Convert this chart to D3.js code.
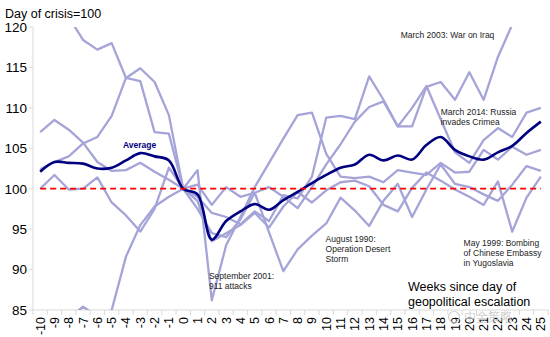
<!DOCTYPE html>
<html>
<head>
<meta charset="utf-8">
<style>
  html, body { margin: 0; padding: 0; background: #fff; }
  svg { display: block; font-family: 'Liberation Sans', Arial, sans-serif; }
</style>
<script src="https://cdn.jsdelivr.net/npm/d3@7/dist/d3.min.js"></script>
</head>
<body>
<div id="chart"></div>
<script>
(function () {
  'use strict';

  // Weeks relative to the day of the event (day of crisis = 100)
  const WEEKS = d3.range(-10, 26);
  const Y_TICKS = [85, 90, 95, 100, 105, 110, 115, 120];

  const IRAQ_2003 = [124.0, 123.0, 121.2, 118.4, 117.2, 118.0, 113.7, 113.3, 107.0, 106.8,
    100.0, 99.0, 97.0, 96.5, 95.6, 97.2, 96.0, 99.2, 98.8, 101.5,
    108.8, 109.0, 108.6, 113.9, 111.0, 107.7, 107.7, 112.6, 113.2, 111.0,
    114.4, 111.0, 116.3, 120.3, 122.0, 123.5];
  const SEPT_2001 = [107.0, 108.5, 107.3, 105.7, 103.3, 102.2, 102.3, 103.2, 102.1, 101.1,
    100.0, 102.3, 86.2, 93.0, 96.5, 100.2, 103.2, 106.2, 109.1, 109.4,
    104.3, 101.5, 101.3, 101.5, 100.8, 102.3, 102.0, 101.7, 103.2, 102.0,
    102.1, 104.8, 103.6, 105.2, 104.2, 104.8];
  const CRIMEA_2014 = [102.4, 103.3, 104.0, 105.6, 106.4, 109.0, 113.7, 114.9, 113.2, 109.1,
    100.0, 100.5, 98.0, 100.2, 99.0, 99.5, 100.2, 99.0, 97.6, 100.2,
    103.0, 105.5, 108.3, 110.1, 110.8, 107.7, 110.0, 112.7, 108.6, 104.5,
    103.2, 106.0, 107.5, 106.4, 109.4, 110.0];
  const MAY_1999 = [100.0, 101.7, 99.9, 100.0, 101.4, 98.3, 96.7, 94.7, 97.5, 102.6,
    100.0, 98.5, 93.5, 94.5, 95.5, 97.0, 95.2, 97.8, 99.6, 98.3,
    99.8, 100.8, 101.0, 100.3, 98.0, 97.2, 100.1, 102.0, 101.0, 99.9,
    99.0, 98.0, 100.9, 94.7, 98.9, 101.5];
  const AUG_1990 = [80.5, 82.5, 84.0, 85.4, 84.2, 85.0, 91.6, 95.5, 97.8, 99.0,
    100.0, 97.5, 94.5, 94.0, 96.2, 99.5, 94.6, 89.8, 92.5, 94.2,
    95.7, 98.9, 97.3, 95.4, 98.5, 100.6, 96.5, 99.9, 103.0, 100.6,
    100.2, 99.3, 98.5, 100.5, 102.8, 102.2];
  const AVERAGE = [102.1, 103.3, 103.2, 103.1, 102.5, 102.6, 103.5, 104.4, 104.0, 103.5,
    100.0, 99.3, 93.7, 96.0, 97.2, 98.1, 97.4, 98.6, 99.6, 100.7,
    101.7, 102.6, 103.0, 104.2, 103.5, 104.1, 103.6, 105.4, 106.4, 104.8,
    104.0, 103.6, 104.5, 105.3, 106.9, 108.3];

  const EVENTS = [IRAQ_2003, SEPT_2001, CRIMEA_2014, MAY_1999, AUG_1990];

  // Annotations: [week, value, lines]  (anchored at first baseline)
  const NOTES = [
    [15.2, 118.6, ['March 2003: War on Iraq']],
    [18.0, 109.1, ['March 2014: Russia', 'invades Crimea']],
    [1.8, 88.8, ['September 2001:', '911 attacks']],
    [9.95, 93.4, ['August 1990:', 'Operation Desert', 'Storm']],
    [19.6, 92.9, ['May 1999: Bombing', 'of Chinese Embassy', 'in Yugoslavia']]
  ];

  const W = 550, H = 337;
  const left = 33, right = 548, top = 27, bottom = 310;

  const svg = d3.select('#chart').append('svg')
    .attr('width', W).attr('height', H);

  const x = d3.scalePoint().domain(WEEKS).range([left, right]).padding(0.5);
  const y = d3.scaleLinear().domain([85, 120]).range([bottom, top]);
  const step = x.step();

  svg.append('defs').append('clipPath').attr('id', 'plot-clip')
    .append('rect')
    .attr('x', left).attr('y', top)
    .attr('width', right - left).attr('height', bottom - top);

  // --- Axes ---
  svg.append('line')
    .attr('x1', left).attr('x2', left).attr('y1', top).attr('y2', bottom)
    .attr('stroke', '#d9d9d9').attr('stroke-width', 1);
  svg.append('line')
    .attr('x1', left).attr('x2', right).attr('y1', bottom).attr('y2', bottom)
    .attr('stroke', '#d9d9d9').attr('stroke-width', 1);

  Y_TICKS.forEach(v => {
    svg.append('line')
      .attr('x1', left - 4).attr('x2', left).attr('y1', y(v)).attr('y2', y(v))
      .attr('stroke', '#d9d9d9');
    svg.append('text')
      .attr('x', 27).attr('y', y(v)).attr('dy', '0.36em')
      .attr('text-anchor', 'end').attr('font-size', 13.5).attr('fill', '#000')
      .text(v);
  });

  WEEKS.forEach((w, i) => {
    const bx = left + i * step;
    svg.append('line')
      .attr('x1', bx).attr('x2', bx).attr('y1', bottom).attr('y2', bottom + 5)
      .attr('stroke', '#d9d9d9');
    svg.append('text')
      .attr('transform', `translate(${x(w) + 4.5},${bottom + 7}) rotate(-90)`)
      .attr('text-anchor', 'end').attr('font-size', 12.5).attr('fill', '#000')
      .text(w);
  });
  svg.append('line')
    .attr('x1', right).attr('x2', right).attr('y1', bottom).attr('y2', bottom + 5)
    .attr('stroke', '#d9d9d9');

  svg.append('text')
    .attr('x', 5).attr('y', 18)
    .attr('font-size', 12.5).attr('fill', '#000')
    .text('Day of crisis=100');

  // --- Lines ---
  const plot = svg.append('g').attr('clip-path', 'url(#plot-clip)');
  const line = d3.line().x((d, i) => x(WEEKS[i])).y(d => y(d));

  EVENTS.forEach(series => {
    plot.append('path')
      .datum(series)
      .attr('d', line)
      .attr('fill', 'none')
      .attr('stroke', '#a4a4d8')
      .attr('stroke-width', 2.3)
      .attr('stroke-linejoin', 'round');
  });

  // baseline at 100
  svg.append('line')
    .attr('x1', x(WEEKS[0])).attr('x2', x(WEEKS[WEEKS.length - 1]))
    .attr('y1', y(100)).attr('y2', y(100))
    .attr('stroke', '#ff0000').attr('stroke-width', 1.8)
    .attr('stroke-dasharray', '6,4');

  plot.append('path')
    .datum(AVERAGE)
    .attr('d', line.curve(d3.curveCatmullRom.alpha(0.5)))
    .attr('fill', 'none')
    .attr('stroke', '#000080')
    .attr('stroke-width', 2.6);

  svg.append('text')
    .attr('x', x(-4) - 3).attr('y', y(105.0))
    .attr('font-size', 8.5).attr('font-weight', 'bold').attr('fill', '#000080')
    .text('Average');

  // --- Annotations ---
  NOTES.forEach(([wk, val, lines]) => {
    const px = x(0) + (wk * step);
    const t = svg.append('text')
      .attr('x', px).attr('y', y(val))
      .attr('font-size', 8.5).attr('fill', '#222');
    lines.forEach((s, i) => {
      t.append('tspan').attr('x', px).attr('dy', i === 0 ? 0 : 9.8).text(s);
    });
  });

  const axisNote = svg.append('text')
    .attr('x', 408).attr('y', 291)
    .attr('font-size', 12.5).attr('fill', '#000');
  axisNote.append('tspan').attr('x', 408).text('Weeks since day of');
  axisNote.append('tspan').attr('x', 408).attr('dy', 14.5).text('geopolitical escalation');

  // faint watermark
  svg.append('text')
    .attr('x', 464).attr('y', 322)
    .attr('font-size', 12).attr('fill', '#c8c8c8').attr('opacity', 0.8)
    .attr('font-family', 'Noto Sans CJK SC')
    .text('中金策略');
  svg.append('circle')
    .attr('cx', 454).attr('cy', 317).attr('r', 5.5)
    .attr('fill', 'none').attr('stroke', '#d0d0d0').attr('stroke-width', 1.2);
})();
</script>
</body>
</html>
